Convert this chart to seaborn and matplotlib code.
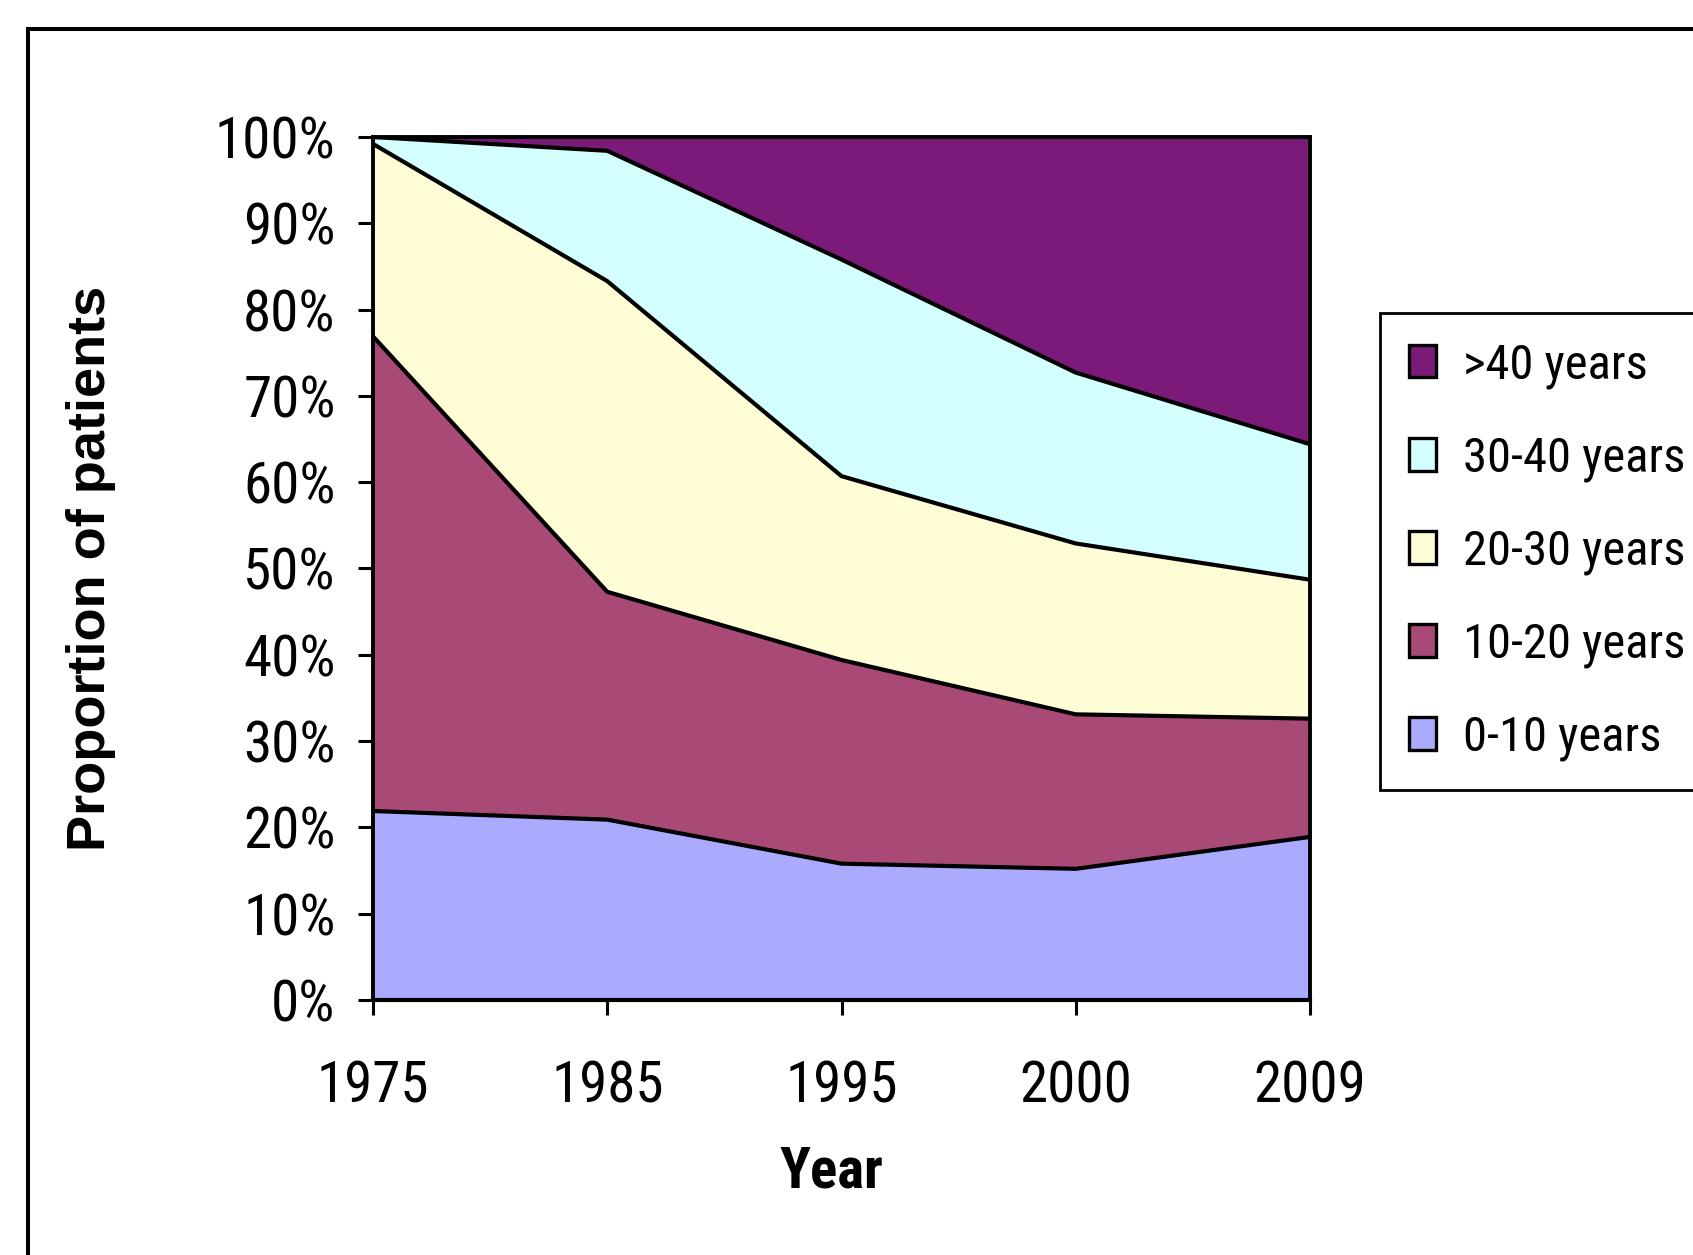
#!/usr/bin/env python3
# -*- coding: utf-8 -*-
"""
Proportion of patients by age group, 1975-2009 (100% stacked area)
"""

import matplotlib.pyplot as plt
import matplotlib.ticker as mticker
from matplotlib.patches import Patch, Rectangle
import seaborn as sns
import pandas as pd

# data (percent of patients per year)
years = ['1975', '1985', '1995', '2000', '2009']
age_0_10 = [21.9, 20.9, 15.8, 15.2, 18.9]
age_10_20 = [55.0, 26.4, 23.6, 17.9, 13.7]
age_20_30 = [22.3, 36.0, 21.3, 19.8, 16.1]
age_30_40 = [0.8, 15.1, 25.1, 19.8, 15.7]
age_over_40 = [0.0, 1.6, 14.2, 27.3, 35.6]

groups = ['0-10 years', '10-20 years', '20-30 years', '30-40 years', '>40 years']
colors = ['#AAAAFF', '#A94A76', '#FFFDD6', '#D4FFFF', '#7B1A78']

sns.set_theme(style='white')

# narrow font like the Excel original, plain black text
plt.rcParams['font.family'] = ['Roboto Condensed', 'DejaVu Sans']
plt.rcParams['text.color'] = 'black'
plt.rcParams['axes.labelcolor'] = 'black'

df = pd.DataFrame({
    groups[0]: age_0_10,
    groups[1]: age_10_20,
    groups[2]: age_20_30,
    groups[3]: age_30_40,
    groups[4]: age_over_40,
}, index=years)
df = df.div(df.sum(axis=1), axis=0)
cum = df.cumsum(axis=1)

W, H = 1693, 1255
fig = plt.figure(figsize=(W / 100, H / 100), dpi=100)
ax = fig.add_axes([373 / W, 1 - 1000 / H, (1310 - 373) / W, (1000 - 137) / H])

x = list(range(len(years)))
ax.stackplot(x, *[df[g].values for g in groups], colors=colors, linewidth=0)

# boundary lines between the layers
long = cum.reset_index(names='year').melt(id_vars='year', var_name='group', value_name='top')
long['pos'] = long['year'].map({y: i for i, y in enumerate(years)})
sns.lineplot(data=long, x='pos', y='top', hue='group', palette=['black'] * len(groups),
             linewidth=3.0, legend=False, ax=ax, sort=False)

ax.set_xlim(0, len(years) - 1)
ax.set_ylim(0, 1)
ax.set_xticks(x)
ax.set_xticklabels(years)
ax.yaxis.set_major_locator(mticker.MultipleLocator(0.1))
ax.yaxis.set_major_formatter(mticker.PercentFormatter(1.0, decimals=0))

for side in ['left', 'bottom', 'top', 'right']:
    ax.spines[side].set_color('black')
    ax.spines[side].set_linewidth(2.8)
ax.spines['bottom'].set_linewidth(3.0)

ax.tick_params(axis='both', which='major', direction='out', length=11, width=2.2,
               color='black', labelsize=41, labelcolor='black', left=True, bottom=True)
ax.tick_params(axis='x', pad=32)
ax.tick_params(axis='y', pad=16)
ax.grid(False)

ax.set_xlabel('Year', fontsize=41, fontweight='bold', color='black')
ax.xaxis.set_label_coords(0.489, -0.168)
ax.set_ylabel('Proportion of patients', fontsize=39, fontweight='bold', color='black',
              family=['Liberation Sans', 'DejaVu Sans'])
ax.yaxis.set_label_coords(-0.274, 0.5)

# legend, top group first
handles = [Patch(facecolor=c, edgecolor='black', linewidth=2.4) for c in colors][::-1]
leg = fig.legend(handles, groups[::-1], loc='upper left',
                 bbox_to_anchor=(1380 / W, 1 - 313 / H), bbox_transform=fig.transFigure,
                 borderaxespad=0, fontsize=35, frameon=True, fancybox=False,
                 handlelength=0.55, handleheight=0.66, handletextpad=0.56,
                 labelspacing=0.96, borderpad=0.6, labelcolor='black')
leg.get_frame().set_edgecolor('black')
leg.get_frame().set_linewidth(2.0)
leg.get_frame().set_alpha(1)

# outer chart frame, cut off at right and bottom like the source
fig.patches.append(Rectangle((28 / W, -0.2), 2.0, 1 - 29 / H + 0.2, transform=fig.transFigure,
                             fill=False, edgecolor='black', linewidth=2.9, clip_on=False))

plt.savefig('out.png', dpi=100)
plt.close()
